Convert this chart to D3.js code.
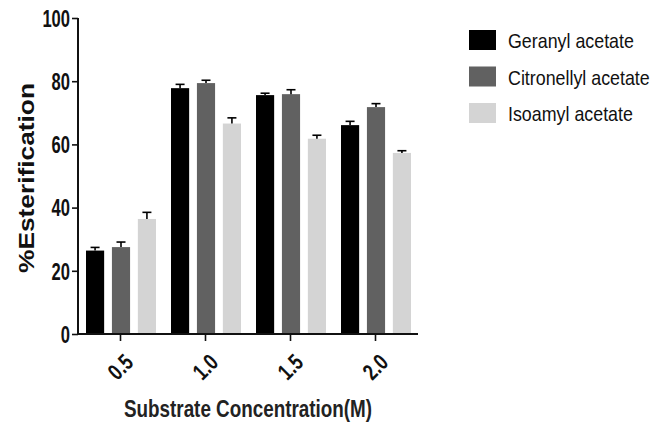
<!DOCTYPE html>
<html lang="en">
<head>
	<meta charset="UTF-8">
	<title>Esterification</title>
	<script type="text/javascript" src="https://cdnjs.cloudflare.com/ajax/libs/d3/7.8.5/d3.min.js"></script>
	<style>
		body { margin: 0; background: #fff; }
		text { font-family: "Liberation Sans", Arial, sans-serif; }
		.tick-label { font-weight: bold; font-size: 23px; fill: #111; }
	</style>
</head>
<body>
<script type="text/javascript">
	var concentrations = ['0.5', '1.0', '1.5', '2.0'];
	var seriesNames = ['Geranyl acetate', 'Citronellyl acetate', 'Isoamyl acetate'];
	var geranyl = [26.4, 77.8, 75.6, 66.1];
	var citronellyl = [27.5, 79.4, 75.9, 71.8];
	var isoamyl = [36.4, 66.6, 61.8, 57.3];
	var geranylErr = [1.0, 1.2, 0.6, 1.2];
	var citronellylErr = [1.6, 0.9, 1.4, 1.1];
	var isoamylErr = [2.1, 1.8, 1.1, 0.7];
	var yTicks = [0, 20, 40, 60, 80, 100];
	var colors = ['#000000', '#616161', '#d4d4d4'];

	window.onload = function () {
		var values = [geranyl, citronellyl, isoamyl];
		var errors = [geranylErr, citronellylErr, isoamylErr];

		var svg = d3.select('body').append('svg')
			.attr('width', 670)
			.attr('height', 425);

		var x0 = d3.scaleBand().domain(concentrations).range([78, 418]).padding(0);
		var x1 = d3.scaleBand().domain(seriesNames).range([8, 78]).paddingInner(0.3).paddingOuter(0);
		var y = d3.scaleLinear().domain([0, 100]).range([334, 18]);

		// bars
		var groups = svg.selectAll('.grp')
			.data(concentrations)
			.enter().append('g')
			.attr('class', 'grp')
			.attr('transform', function (d) { return 'translate(' + x0(d) + ',0)'; });

		function rows(d, i) {
			return seriesNames.map(function (s, j) { return { s: s, j: j, v: values[j][i], e: errors[j][i] }; });
		}

		groups.selectAll('rect')
			.data(rows)
			.enter().append('rect')
			.attr('x', function (d) { return x1(d.s); })
			.attr('width', x1.bandwidth())
			.attr('y', function (d) { return y(d.v); })
			.attr('height', function (d) { return y(0) - y(d.v); })
			.attr('fill', function (d) { return colors[d.j]; });

		// error bars (upper only)
		var eb = groups.selectAll('.err')
			.data(rows)
			.enter().append('g')
			.attr('class', 'err')
			.attr('stroke', '#000')
			.attr('stroke-width', 1.6);
		eb.append('line')
			.attr('x1', function (d) { return x1(d.s) + x1.bandwidth() / 2; })
			.attr('x2', function (d) { return x1(d.s) + x1.bandwidth() / 2; })
			.attr('y1', function (d) { return y(d.v); })
			.attr('y2', function (d) { return y(d.v + d.e); });
		eb.append('line')
			.attr('x1', function (d) { return x1(d.s) + x1.bandwidth() / 2 - 4.5; })
			.attr('x2', function (d) { return x1(d.s) + x1.bandwidth() / 2 + 4.5; })
			.attr('y1', function (d) { return y(d.v + d.e); })
			.attr('y2', function (d) { return y(d.v + d.e); });

		// y axis
		var yAxis = svg.append('g')
			.attr('transform', 'translate(78,0)')
			.call(d3.axisLeft(y).tickValues(yTicks).tickSize(6));
		yAxis.select('.domain').attr('stroke', '#111').attr('stroke-width', 2).attr('d', 'M0,18V335');
		yAxis.selectAll('.tick line').attr('stroke', '#111').attr('stroke-width', 1.6);
		yAxis.selectAll('.tick text')
			.attr('class', 'tick-label')
			.attr('x', 0)
			.attr('dy', '0.36em')
			.attr('transform', 'translate(-8,0) scale(0.72,1)');

		// x axis
		var xAxis = svg.append('g')
			.attr('transform', 'translate(0,334)')
			.call(d3.axisBottom(x0).tickSize(7).tickSizeOuter(0));
		xAxis.select('.domain').attr('stroke', '#111').attr('stroke-width', 2).attr('d', 'M77,0H418');
		xAxis.selectAll('.tick line').attr('stroke', '#111').attr('stroke-width', 1.6);
		xAxis.selectAll('.tick text')
			.attr('class', 'tick-label')
			.attr('text-anchor', 'end')
			.attr('dy', null)
			.attr('y', null)
			.attr('transform', 'translate(14,30) rotate(-45) scale(0.76,1)');

		// axis titles
		svg.append('text')
			.attr('x', 124)
			.attr('y', 417)
			.attr('textLength', 248)
			.attr('lengthAdjust', 'spacingAndGlyphs')
			.style('font-size', '24px')
			.style('font-weight', 'bold')
			.style('fill', '#222')
			.text('Substrate Concentration(M)');

		svg.append('text')
			.attr('transform', 'translate(34,273) rotate(-90)')
			.attr('textLength', 190)
			.attr('lengthAdjust', 'spacingAndGlyphs')
			.style('font-size', '22px')
			.style('font-weight', 'bold')
			.style('fill', '#111')
			.text('%Esterification');

		// legend
		var legend = svg.selectAll('.legend')
			.data(seriesNames)
			.enter().append('g')
			.attr('class', 'legend')
			.attr('transform', function (d, i) { return 'translate(469,' + (30 + i * 36.5) + ')'; });
		legend.append('rect')
			.attr('width', 27)
			.attr('height', 20)
			.attr('fill', function (d, i) { return colors[i]; });
		legend.append('text')
			.attr('transform', 'translate(39,18) scale(0.85,1)')
			.style('font-size', '21px')
			.style('fill', '#111')
			.text(function (d) { return d; });
	};
</script>
</body>
</html>
